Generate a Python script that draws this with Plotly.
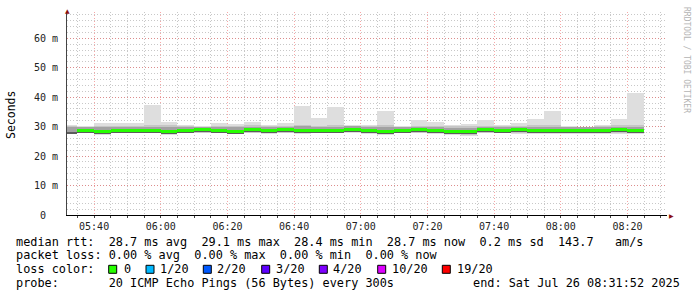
import plotly.graph_objects as go
import pandas as pd

# ---------------- data (ms) ----------------
bar_end = [
    "2025-07-26 05:35", "2025-07-26 05:40", "2025-07-26 05:45", "2025-07-26 05:50", "2025-07-26 05:55",
    "2025-07-26 06:00", "2025-07-26 06:05", "2025-07-26 06:10", "2025-07-26 06:15", "2025-07-26 06:20",
    "2025-07-26 06:25", "2025-07-26 06:30", "2025-07-26 06:35", "2025-07-26 06:40", "2025-07-26 06:45",
    "2025-07-26 06:50", "2025-07-26 06:55", "2025-07-26 07:00", "2025-07-26 07:05", "2025-07-26 07:10",
    "2025-07-26 07:15", "2025-07-26 07:20", "2025-07-26 07:25", "2025-07-26 07:30", "2025-07-26 07:35",
    "2025-07-26 07:40", "2025-07-26 07:45", "2025-07-26 07:50", "2025-07-26 07:55", "2025-07-26 08:00",
    "2025-07-26 08:05", "2025-07-26 08:10", "2025-07-26 08:15", "2025-07-26 08:20", "2025-07-26 08:25",
]
rtt_min = [27.4, 27.7, 27.2, 27.7, 27.7, 27.7, 27.2, 27.7, 27.7, 27.7, 27.5, 27.7, 27.6, 27.7, 27.6,
           27.7, 27.7, 27.8, 27.5, 27.2, 27.7, 27.7, 27.5, 27.3, 26.9, 27.7, 27.7, 27.6, 27.4, 27.6,
           27.6, 27.6, 27.5, 27.6, 27.6]
rtt_low = [27.6, 27.9, 27.5, 27.9, 27.9, 27.9, 27.5, 27.9, 28.0, 27.9, 27.8, 28.0, 27.9, 28.0, 27.9,
           27.9, 27.9, 28.1, 27.8, 27.5, 27.9, 28.0, 27.8, 27.6, 27.3, 28.0, 27.9, 27.9, 27.7, 27.9,
           27.9, 27.9, 27.8, 27.9, 27.9]
rtt_core_lo = [27.7, 27.95, 27.55, 27.75, 27.85, 27.95, 27.55, 27.85, 28.25, 27.85, 27.55, 28.05, 27.85,
               28.05, 27.9, 27.95, 27.95, 28.25, 27.75, 27.55, 27.85, 28.15, 27.75, 27.55, 27.55, 28.05,
               27.85, 28.05, 27.75, 27.85, 27.85, 27.85, 27.85, 28.05, 27.85]
rtt_core_hi = [28.2, 28.8, 28.4, 28.6, 28.7, 28.8, 28.4, 28.7, 29.1, 28.7, 28.4, 28.9, 28.7, 28.9, 28.75,
               28.8, 28.8, 29.1, 28.6, 28.4, 28.7, 29.0, 28.6, 28.4, 28.4, 28.9, 28.7, 28.9, 28.6, 28.7,
               28.7, 28.7, 28.7, 28.9, 28.7]
rtt_median = [None, 28.8, 28.4, 28.6, 28.7, 28.8, 28.4, 28.7, 29.1, 28.7, 28.4, 28.9, 28.7, 28.9, 28.75,
              28.8, 28.8, 29.1, 28.6, 28.4, 28.7, 29.0, 28.6, 28.4, 28.4, 28.9, 28.7, 28.9, 28.6, 28.7,
              28.7, 28.7, 28.7, 28.9, 28.7]
rtt_p75 = [30.0, 29.8, 29.8, 29.9, 29.9, 30.0, 29.7, 29.9, 30.0, 29.9, 29.7, 30.0, 29.9, 30.0, 30.1,
           29.9, 30.0, 30.1, 29.8, 29.7, 29.9, 30.0, 29.8, 29.6, 29.6, 30.0, 29.9, 30.0, 29.9, 29.9,
           29.8, 29.7, 29.8, 30.0, 29.9]
rtt_p90 = [30.2, 29.9, 30.3, 30.2, 30.2, 30.6, 30.4, 30.3, 29.9, 30.3, 30.2, 30.4, 30.2, 30.3, 30.5,
           30.3, 30.4, 30.3, 30.2, 30.4, 29.9, 30.3, 30.3, 30.1, 30.1, 30.3, 30.2, 30.3, 30.4, 30.5,
           29.9, 29.8, 30.1, 30.4, 30.6]
rtt_max = [30.5, 30.2, 31.3, 31.1, 31.1, 37.4, 31.7, 30.6, 30.2, 31.3, 31.0, 31.7, 30.6, 31.3, 37.1,
           33.0, 36.8, 30.6, 30.6, 35.3, 30.2, 32.3, 31.7, 30.6, 31.0, 32.3, 30.6, 31.3, 32.6, 35.3,
           30.2, 30.0, 30.6, 32.6, 41.4]

y_tickvals = [0, 10, 20, 30, 40, 50, 60]
y_ticktext = ["0\u00a0\u00a0", "10 m", "20 m", "30 m", "40 m", "50 m", "60 m"]

loss_labels = ["0", "1/20", "2/20", "3/20", "4/20", "10/20", "19/20"]
loss_colors = ["#26ff00", "#00b8ff", "#0059ff", "#5e00ff", "#7e00ff", "#dd00ff", "#ff0000"]

legend_line1 = "median rtt:  28.7 ms avg  29.1 ms max  28.4 ms min  28.7 ms now  0.2 ms sd  143.7   am/s"
legend_line2 = "packet loss: 0.00 % avg  0.00 % max  0.00 % min  0.00 % now"
legend_line3 = "loss color:"
legend_line4 = "probe:       20 ICMP Echo Pings (56 Bytes) every 300s"
legend_end = "end: Sat Jul 26 08:31:52 2025"

# ---------------- layout geometry ----------------
W, H = 697, 297
L, R, T, B = 67, 30, 12, 82
PW, PH = W - L - R, H - T - B
MONO = "DejaVu Sans Mono"

def px(xp):
    return (xp - L) / PW

def py(yp):
    return (H - B - yp) / PH

STEP = 300000  # ms
ends = pd.to_datetime(bar_end)
centers = ends - pd.Timedelta(seconds=150)

fig = go.Figure()

def band(lo, hi, color):
    xs, bs, hs = [], [], []
    for c, a, b in zip(centers, lo, hi):
        if a is None or b is None:
            continue
        xs.append(c)
        bs.append(a)
        hs.append(b - a)
    fig.add_trace(go.Bar(x=xs, y=hs, base=bs, width=[STEP] * len(xs),
                         marker=dict(color=color, line=dict(width=0)),
                         hoverinfo="skip", showlegend=False))

band(rtt_min, rtt_max, "#dedede")
band(rtt_low, rtt_p90, "#c6c6c6")
band(rtt_core_lo, rtt_p75, "#a2a2a2")
band(rtt_core_lo, rtt_core_hi, "#5c5c5c")
band([None if m is None else m - 0.5 for m in rtt_median],
     [None if m is None else m + 0.5 for m in rtt_median], loss_colors[0])

fig.update_layout(
    width=W, height=H,
    margin=dict(l=L, r=R, t=T, b=B, pad=0),
    paper_bgcolor="white", plot_bgcolor="white",
    barmode="overlay", bargap=0,
    showlegend=False,
    font=dict(family=MONO, color="#000"),
)

MAJ = "rgba(240,80,80,0.5)"
MIN = "#c8c8c8"
fig.update_xaxes(
    type="date",
    range=["2025-07-26 05:31:52", "2025-07-26 08:31:52"],
    tick0="2025-07-26 05:40:00", dtick=1200000, tickformat="%H:%M",
    tickfont=dict(family=MONO, size=10, color="#222"),
    showgrid=True, gridcolor=MAJ, griddash="1px,2px", gridwidth=1,
    minor=dict(dtick=STEP, showgrid=True, gridcolor=MIN, griddash="1px,2px",
               ticks="outside", ticklen=2, tickcolor="#444"),
    ticks="outside", ticklen=2, tickcolor="#444",
    showline=True, linecolor="#000", linewidth=1,
    zeroline=False, fixedrange=True,
)
fig.update_yaxes(
    range=[0, 68.9],
    tickvals=y_tickvals, ticktext=y_ticktext,
    tickfont=dict(family=MONO, size=10, color="#222"),
    showgrid=True, gridcolor=MAJ, griddash="1px,2px", gridwidth=1,
    minor=dict(dtick=2, showgrid=True, gridcolor=MIN, griddash="1px,2px"),
    ticks="", ticklabelstandoff=6,
    showline=True, linecolor="#444", linewidth=1,
    zeroline=False, fixedrange=True,
)

ann = []
ann.append(dict(text="Seconds", x=px(11), y=py(115), xref="paper", yref="paper",
                textangle=-90, showarrow=False, font=dict(family=MONO, size=11.5, color="#000"),
                xanchor="center", yanchor="middle"))
ann.append(dict(text="RRDTOOL / TOBI OETIKER", x=px(687), y=py(60), xref="paper", yref="paper",
                textangle=90, showarrow=False, font=dict(family=MONO, size=8, color="#b4b4b4"),
                xanchor="center", yanchor="middle"))
ann.append(dict(text="\u25B6", x=px(671), y=py(215), xref="paper", yref="paper", showarrow=False,
                font=dict(family="DejaVu Sans", size=6, color="#8b1010"), xanchor="center", yanchor="middle"))
ann.append(dict(text="\u25B2", x=px(67), y=py(10), xref="paper", yref="paper", showarrow=False,
                font=dict(family="DejaVu Sans", size=6, color="#8b1010"), xanchor="center", yanchor="middle"))

LEG = 11.85
def text_at(t, xp, yp, anchor="left"):
    ann.append(dict(text=t.replace(" ", "\u00a0"), x=px(xp), y=py(yp), xref="paper", yref="paper",
                    showarrow=False, xanchor=anchor, yanchor="middle", borderpad=0, borderwidth=0,
                    font=dict(family=MONO, size=LEG, color="#000")))

text_at(legend_line1, 16, 241.7)
text_at(legend_line2, 16, 255.4)
text_at(legend_line3, 16, 269.2)
text_at(legend_line4, 16, 282.8)
text_at(legend_end, 680, 282.8, anchor="right")

sq_x = [108.7, 146.0, 203.3, 261.7, 319.3, 377.7, 442.3]
lbl_x = [124.0, 160.0, 217.3, 276.0, 333.3, 391.7, 456.7]
shapes = []
for sx, lx, lab, col in zip(sq_x, lbl_x, loss_labels, loss_colors):
    shapes.append(dict(type="rect", xref="paper", yref="paper",
                       x0=px(sx), x1=px(sx + 8), y0=py(265.3), y1=py(273.3),
                       fillcolor=col, line=dict(color="#000", width=1), layer="above"))
    text_at(lab, lx, 269.2)

fig.update_layout(annotations=ann, shapes=shapes)
fig.write_html("out.html")
